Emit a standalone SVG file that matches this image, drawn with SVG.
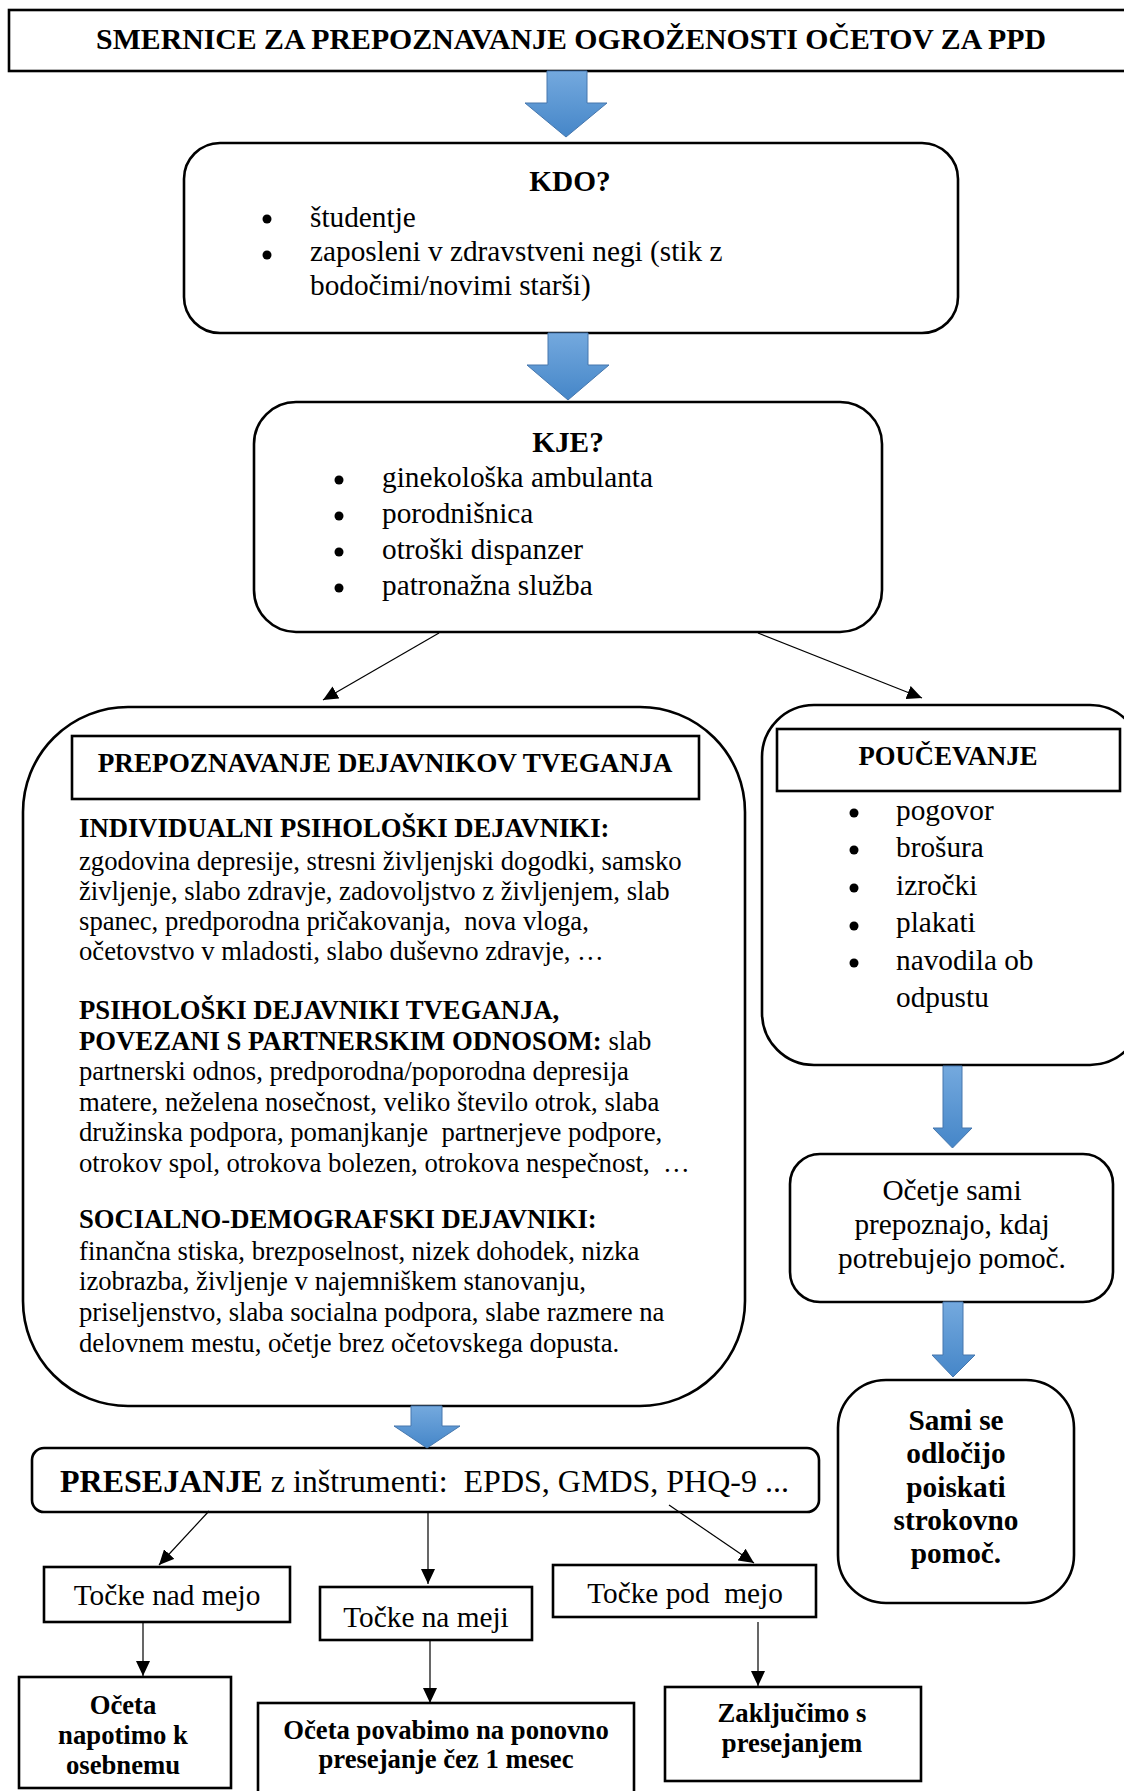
<svg xmlns="http://www.w3.org/2000/svg" width="1124" height="1791" viewBox="0 0 1124 1791">
<style>
text{font-family:"Liberation Serif","Times New Roman",serif;fill:#000;white-space:pre}
.b{font-weight:bold}
.c{text-anchor:middle}
.f29{font-size:29.3px}
.f27{font-size:26.7px}
.box{fill:#fff;stroke:#000;stroke-width:2.6}
.con{stroke:#000;stroke-width:1.2;fill:none;marker-end:url(#ah)}
.blue{fill:url(#bg);stroke:#4677ad;stroke-width:1}
.dot{fill:#000}
</style>
<defs>
<linearGradient id="bg" x1="0" y1="0" x2="0" y2="1">
<stop offset="0" stop-color="#74a9de"/>
<stop offset="1" stop-color="#4586c8"/>
</linearGradient>
<marker id="ah" markerUnits="userSpaceOnUse" markerWidth="15" markerHeight="14" viewBox="0 0 15 14" refX="15" refY="7" orient="auto">
<path d="M0,0 L15,7 L0,14 z" fill="#000"/>
</marker>
</defs>
<rect width="1124" height="1791" fill="#fff"/>

<g id="title">
<rect class="box" x="9" y="10" width="1125" height="61"/>
<text class="b c" x="571" y="49" style="font-size:29.8px">SMERNICE ZA PREPOZNAVANJE OGROŽENOSTI OČETOV ZA PPD</text>
</g>

<g id="kdo">
<rect class="box" x="184" y="143" width="774" height="190" rx="36"/>
<text class="b c f29" x="570" y="191">KDO?</text>
<circle class="dot" cx="267" cy="219" r="4.5"/>
<text class="f29" x="310" y="227">študentje</text>
<circle class="dot" cx="267" cy="255" r="4.5"/>
<text class="f29" x="310" y="261">zaposleni v zdravstveni negi (stik z</text>
<text class="f29" x="310" y="295">bodočimi/novimi starši)</text>
</g>

<g id="kje">
<rect class="box" x="254" y="402" width="628" height="230" rx="42"/>
<text class="b c f29" x="568" y="452">KJE?</text>
<circle class="dot" cx="339" cy="480" r="4.5"/>
<text class="f29" x="382" y="487">ginekološka ambulanta</text>
<circle class="dot" cx="339" cy="516" r="4.5"/>
<text class="f29" x="382" y="523">porodnišnica</text>
<circle class="dot" cx="339" cy="552" r="4.5"/>
<text class="f29" x="382" y="559">otroški dispanzer</text>
<circle class="dot" cx="339" cy="588" r="4.5"/>
<text class="f29" x="382" y="595">patronažna služba</text>
</g>

<g id="dejavniki">
<rect class="box" x="23" y="707" width="722" height="699" rx="105"/>
<rect class="box" x="72" y="736" width="627" height="63"/>
<text class="b c" x="385" y="772" style="font-size:27.2px">PREPOZNAVANJE DEJAVNIKOV TVEGANJA</text>
<text class="b f27" x="79" y="837">INDIVIDUALNI PSIHOLOŠKI DEJAVNIKI:</text>
<text class="f27" x="79" y="870">zgodovina depresije, stresni življenjski dogodki, samsko</text>
<text class="f27" x="79" y="900">življenje, slabo zdravje, zadovoljstvo z življenjem, slab</text>
<text class="f27" x="79" y="930">spanec, predporodna pričakovanja,  nova vloga,</text>
<text class="f27" x="79" y="960">očetovstvo v mladosti, slabo duševno zdravje, …</text>
<text class="b f27" x="79" y="1019">PSIHOLOŠKI DEJAVNIKI TVEGANJA,</text>
<text class="f27" x="79" y="1050"><tspan class="b">POVEZANI S PARTNERSKIM ODNOSOM:</tspan> slab</text>
<text class="f27" x="79" y="1080">partnerski odnos, predporodna/poporodna depresija</text>
<text class="f27" x="79" y="1111">matere, neželena nosečnost, veliko število otrok, slaba</text>
<text class="f27" x="79" y="1141">družinska podpora, pomanjkanje  partnerjeve podpore,</text>
<text class="f27" x="79" y="1172">otrokov spol, otrokova bolezen, otrokova nespečnost,  …</text>
<text class="b f27" x="79" y="1228">SOCIALNO-DEMOGRAFSKI DEJAVNIKI:</text>
<text class="f27" x="79" y="1260">finančna stiska, brezposelnost, nizek dohodek, nizka</text>
<text class="f27" x="79" y="1290">izobrazba, življenje v najemniškem stanovanju,</text>
<text class="f27" x="79" y="1321">priseljenstvo, slaba socialna podpora, slabe razmere na</text>
<text class="f27" x="79" y="1352">delovnem mestu, očetje brez očetovskega dopusta.</text>
</g>

<g id="poucevanje">
<rect class="box" x="762" y="705" width="380" height="360" rx="52"/>
<rect class="box" x="777" y="729" width="343" height="62"/>
<text class="b c f27" x="948" y="765">POUČEVANJE</text>
<circle class="dot" cx="854" cy="813" r="4.5"/>
<text class="f29" x="896" y="820">pogovor</text>
<circle class="dot" cx="854" cy="850" r="4.5"/>
<text class="f29" x="896" y="857">brošura</text>
<circle class="dot" cx="854" cy="888" r="4.5"/>
<text class="f29" x="896" y="895">izročki</text>
<circle class="dot" cx="854" cy="926" r="4.5"/>
<text class="f29" x="896" y="932">plakati</text>
<circle class="dot" cx="854" cy="963" r="4.5"/>
<text class="f29" x="896" y="970">navodila ob</text>
<text class="f29" x="896" y="1007">odpustu</text>
</g>

<g id="ocetje">
<rect class="box" x="790" y="1154" width="323" height="148" rx="30"/>
<text class="c f29" x="952" y="1200">Očetje sami</text>
<text class="c f29" x="952" y="1234">prepoznajo, kdaj</text>
<text class="c f29" x="952" y="1268">potrebujejo pomoč.</text>
</g>

<g id="sami">
<rect class="box" x="838" y="1380" width="236" height="223" rx="48"/>
<text class="b c f29" x="956" y="1430">Sami se</text>
<text class="b c f29" x="956" y="1463">odločijo</text>
<text class="b c f29" x="956" y="1497">poiskati</text>
<text class="b c f29" x="956" y="1530">strokovno</text>
<text class="b c f29" x="956" y="1563">pomoč.</text>
</g>

<g id="presejanje">
<rect class="box" x="32" y="1448" width="787" height="64" rx="12"/>
<text x="60" y="1492" style="font-size:32px"><tspan class="b">PRESEJANJE</tspan> z inštrumenti:  EPDS, GMDS, PHQ-9 ...</text>
</g>

<g id="nad">
<rect class="box" x="44" y="1567" width="246" height="55"/>
<text class="c f29" x="167" y="1605">Točke nad mejo</text>
</g>
<g id="na">
<rect class="box" x="320" y="1587" width="212" height="53"/>
<text class="c f29" x="426" y="1627">Točke na meji</text>
</g>
<g id="pod">
<rect class="box" x="553" y="1565" width="263" height="52"/>
<text class="c f29" x="685" y="1603">Točke pod  mejo</text>
</g>

<g id="napotimo">
<rect class="box" x="19" y="1677" width="212" height="111"/>
<text class="b c f27" x="123" y="1714">Očeta</text>
<text class="b c f27" x="123" y="1744">napotimo k</text>
<text class="b c f27" x="123" y="1774">osebnemu</text>
</g>
<g id="povabimo">
<rect class="box" x="258" y="1703" width="376" height="100"/>
<text class="b c f27" x="446" y="1739">Očeta povabimo na ponovno</text>
<text class="b c f27" x="446" y="1768">presejanje čez 1 mesec</text>
</g>
<g id="zakljucimo">
<rect class="box" x="665" y="1687" width="256" height="94"/>
<text class="b c f27" x="792" y="1722">Zaključimo s</text>
<text class="b c f27" x="792" y="1752">presejanjem</text>
</g>

<g id="connectors">
<path class="blue" d="M547,71 H587 V103 H607 L566,137 L525,103 H547 Z"/>
<path class="blue" d="M548,333 H588 V365 H609 L568,400 L527,365 H548 Z"/>
<path class="blue" d="M411,1406 H442 V1426 H460 L427,1448 L394,1426 H411 Z"/>
<path class="blue" d="M943,1066 H962 V1128 H972 L952.5,1148 L933,1128 H943 Z"/>
<path class="blue" d="M943,1302 H963 V1355 H975 L953,1377 L932,1355 H943 Z"/>
<line class="con" x1="439" y1="633" x2="323" y2="700"/>
<line class="con" x1="758" y1="633" x2="922" y2="698"/>
<line class="con" x1="209" y1="1511" x2="159" y2="1565"/>
<line class="con" x1="428" y1="1512" x2="428" y2="1584"/>
<line class="con" x1="669" y1="1505" x2="754" y2="1563"/>
<line class="con" x1="143" y1="1622" x2="143" y2="1676"/>
<line class="con" x1="430" y1="1640" x2="430" y2="1703"/>
<line class="con" x1="758" y1="1622" x2="758" y2="1686"/>
</g>
</svg>
